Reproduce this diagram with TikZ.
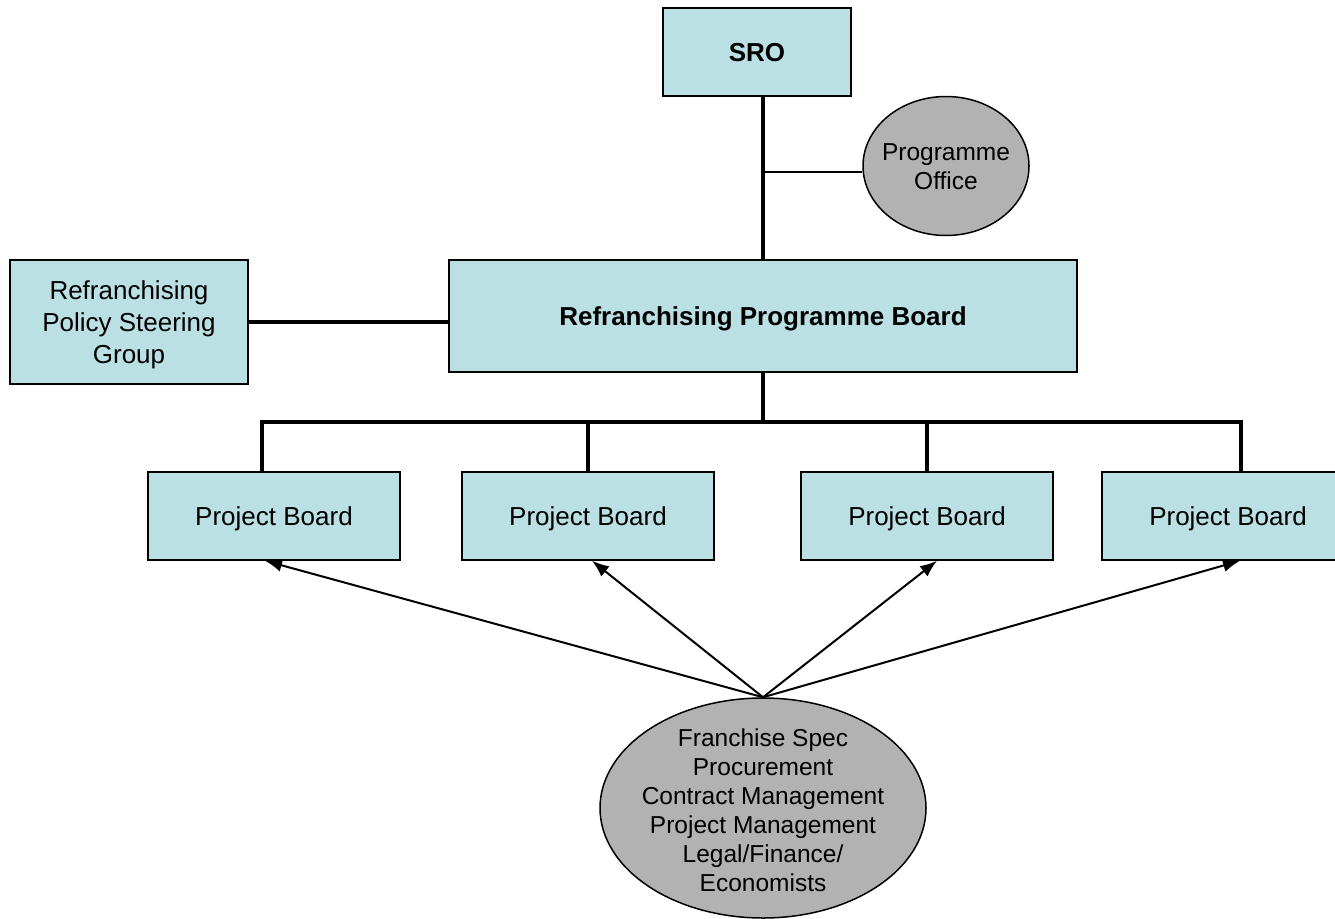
\documentclass[tikz,border=0pt]{standalone}
\usepackage{fontspec}
\setmainfont{Liberation Sans}
\usetikzlibrary{shapes.geometric,arrows.meta}
\definecolor{boxfill}{RGB}{186,224,227}
\definecolor{ovalfill}{RGB}{178,178,178}
\tikzset{
  box/.style={draw=black, line width=1.5pt, fill=boxfill, rectangle, inner sep=0pt, align=center, text depth=0pt, font=\fontsize{26}{32}\selectfont},
  oval/.style={draw=black, line width=1.5pt, fill=ovalfill, ellipse, inner sep=0pt},
  ovaltext/.style={align=center, inner sep=0pt, font=\fontsize{24.5}{29}\selectfont},
  thickline/.style={line width=4pt},
  thinline/.style={line width=2pt},
  arrowline/.style={line width=2pt, -{Latex[length=17pt,width=13pt]}}
}
\begin{document}
\begin{tikzpicture}[x=1pt,y=-1pt]
\clip (0,0) rectangle (1335,918);
\fill[white] (0,0) rectangle (1335,918);
\node[box, minimum width=188pt, minimum height=88pt, font=\fontsize{26}{32}\selectfont\bfseries] (SRO) at (757,52) {SRO};
\node[oval, minimum width=166pt, minimum height=139pt] (PO) at (946,166) {};
\node[ovaltext] (POt) at ([yshift=-1pt]PO.center) {Programme\\Office};
\node[box, minimum width=628pt, minimum height=112pt, font=\fontsize{26}{32}\selectfont\bfseries] (RPB) at (763,316) {Refranchising Programme Board};
\node[box, minimum width=238pt, minimum height=124pt] (RPSG) at (129,322) {Refranchising\\Policy Steering\\Group};
\node[box, minimum width=252pt, minimum height=88pt] (PB1) at (274,516) {Project Board};
\node[box, minimum width=252pt, minimum height=88pt] (PB2) at (588,516) {Project Board};
\node[box, minimum width=252pt, minimum height=88pt] (PB3) at (927,516) {Project Board};
\node[box, minimum width=252pt, minimum height=88pt] (PB4) at (1228,516) {Project Board};
\node[oval, minimum width=326pt, minimum height=220pt] (FS) at (763,808) {};
\node[ovaltext] (FSt) at ([yshift=-2pt]FS.center) {Franchise Spec\\Procurement\\Contract Management\\Project Management\\Legal/Finance/\\Economists};
% connectors
\draw[thickline] (RPB.north) -- (RPB.north |- SRO.south);
\draw[thinline] ([yshift=-6pt]PO.west) -- ([yshift=-6pt]PO.west -| RPB.north);
\draw[thickline] (RPSG.east) -- (RPSG.east -| RPB.west);
\coordinate (bus) at ([yshift=-49pt]RPB.south);
\coordinate (t1) at ([xshift=-12pt]PB1.north);
\coordinate (t4) at ([xshift=13pt]PB4.north);
\draw[thickline] (RPB.south) -- (bus);
\draw[thickline, line cap=rect] (t1) -- (t1 |- bus) -- (t4 |- bus) -- (t4);
\draw[thickline] (PB2.north) -- (PB2.north |- bus);
\draw[thickline] (PB3.north) -- (PB3.north |- bus);
\draw[arrowline] (FS.north) -- ([xshift=-9pt]PB1.south);
\draw[arrowline] (FS.north) -- ([xshift=4pt]PB2.south);
\draw[arrowline] (FS.north) -- ([xshift=10pt]PB3.south);
\draw[arrowline] (FS.north) -- ([xshift=12pt]PB4.south);
\end{tikzpicture}
\end{document}
